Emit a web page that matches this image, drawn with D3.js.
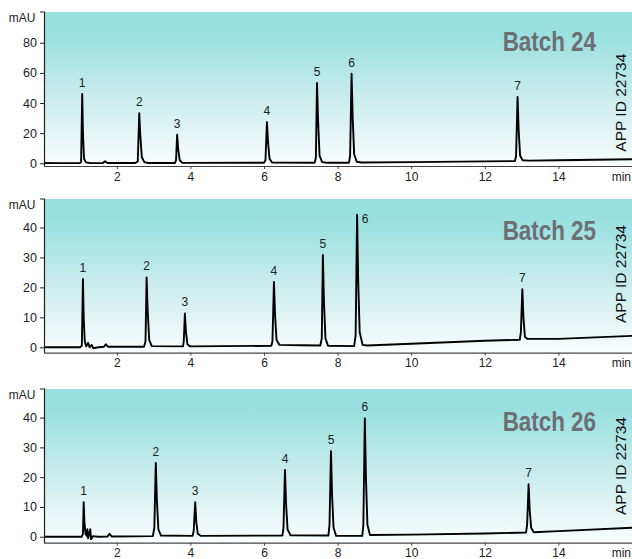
<!DOCTYPE html>
<html>
<head>
<meta charset="utf-8">
<script src="https://cdn.jsdelivr.net/npm/d3@7/dist/d3.min.js"></script>
<style>
  html, body { margin: 0; padding: 0; background: #ffffff; }
  svg { display: block; }
  text { font-family: "Liberation Sans", Arial, Helvetica, sans-serif; }
</style>
</head>
<body>
<div id="chart"></div>
<script>
// ---------------- DATA ----------------
const batchNames = ["Batch 24", "Batch 25", "Batch 26"];
const appId = "APP ID 22734";
const xTickValues = [2, 4, 6, 8, 10, 12, 14];
const xUnitLabel = "min";
const yUnitLabel = "mAU";
const yTicks24 = [0, 20, 40, 60, 80];
const yTicks25 = [0, 10, 20, 30, 40];
const yTicks26 = [0, 10, 20, 30, 40];
const peakNumbers = ["1", "2", "3", "4", "5", "6", "7"];

// peak apex [retention time (min), height (mAU)]
const peaks24 = [[1.06, 46], [2.61, 33.3], [3.64, 18.9], [6.08, 27.3], [7.44, 53.3], [8.38, 59.5], [12.89, 44]];
const peaks25 = [[1.08, 22.8], [2.81, 23.3], [3.85, 11.3], [6.27, 21.8], [7.60, 30.8], [8.53, 44.3], [13.02, 19.4]];
const peaks26 = [[1.10, 11.6], [3.06, 24.8], [4.13, 11.6], [6.57, 22.4], [7.82, 28.7], [8.74, 39.7], [13.19, 17.6]];

// chromatogram traces [time (min), signal (mAU)]
const trace24 = [
  [0.02,0.2],[0.5,0.1],[1.0,0.2],[1.03,0.8],[1.06,46],[1.08,20],[1.11,3],[1.16,0.6],[1.3,0.1],
  [1.62,0.2],[1.68,1.3],[1.75,0.2],[2.5,0.2],[2.57,1.2],[2.61,33.3],[2.64,18],[2.68,4],[2.75,0.8],[2.85,0.2],
  [3.58,0.2],[3.61,2],[3.64,18.9],[3.67,9],[3.71,2],[3.78,0.3],[6.0,0.4],[6.04,2],[6.08,27.3],[6.11,14],
  [6.15,3],[6.22,0.5],[7.38,0.4],[7.41,4],[7.44,53.3],[7.47,28],[7.51,5],[7.58,0.8],[7.7,0.4],
  [8.31,0.4],[8.34,5],[8.38,59.5],[8.41,30],[8.45,6],[8.52,1],[8.65,0.5],[10,0.8],[12,1.3],
  [12.82,1.5],[12.85,5],[12.89,44],[12.92,22],[12.96,5],[13.03,2],[13.2,1.8],[14,2.0],[16,2.7]
];
const trace25 = [
  [0.02,0],[1.0,0],[1.05,0.5],[1.08,22.8],[1.10,10],[1.13,2],[1.17,0.3],[1.22,1.5],[1.26,0],[1.32,0.8],
  [1.36,-0.3],[1.5,0],[1.65,0.2],[1.7,1],[1.76,0.2],[2.74,0.2],[2.78,2],[2.81,23.3],[2.84,12],[2.88,2.5],
  [2.95,0.4],[3.8,0.3],[3.82,2],[3.85,11.3],[3.88,5],[3.92,1],[3.99,0.3],[6.2,0.5],[6.23,2],[6.27,21.8],
  [6.30,11],[6.34,2.5],[6.42,0.8],[7.0,0.7],[7.53,0.6],[7.57,3],[7.60,30.8],[7.63,15],[7.67,3],[7.74,0.5],
  [8.45,0.4],[8.49,4],[8.53,44.3],[8.56,22],[8.60,5],[8.68,0.8],[8.8,0.6],[10,1.2],[12,2.2],
  [12.95,2.5],[12.98,5],[13.02,19.4],[13.05,10],[13.09,3.5],[13.16,2.8],[14,2.8],[16,3.8]
];
const trace26 = [
  [0.02,0],[1.05,0],[1.08,1],[1.10,11.6],[1.12,5],[1.15,1],[1.18,0.3],[1.20,2.5],[1.22,-0.5],[1.25,1],
  [1.28,2.5],[1.30,-0.8],[1.35,0.2],[1.5,0],[1.75,0.1],[1.8,1],[1.86,0.1],[2.98,0.2],[3.02,3],[3.06,24.8],
  [3.09,12],[3.13,2.5],[3.2,0.4],[4.06,0.3],[4.09,2],[4.13,11.6],[4.16,5],[4.2,1],[4.28,0.3],[6.5,0.4],
  [6.53,3],[6.57,22.4],[6.60,11],[6.64,2.5],[6.72,0.5],[7.75,0.4],[7.78,4],[7.82,28.7],[7.85,14],[7.89,3],
  [7.96,0.3],[8.67,0.3],[8.70,4],[8.74,39.7],[8.77,20],[8.81,4],[8.88,0.6],[10,0.7],[12,1.1],
  [13.12,1.4],[13.15,4],[13.19,17.6],[13.22,9],[13.26,3],[13.33,1.5],[14,1.9],[16,3]
];

// ---------------- LAYOUT ----------------
const W = 632, H = 559;
const panels = [
  { name: batchNames[0], trace: trace24, peaks: peaks24, yTicks: yTicks24, yDomain: [-1.8, 100.4], top: 12, bottom: 166, batchY: 50.7, appY: 151.7, lab6: null },
  { name: batchNames[1], trace: trace25, peaks: peaks25, yTicks: yTicks25, yDomain: [-1.8, 49.5], top: 199, bottom: 352.7, batchY: 240, appY: 323, lab6: [8, 8] },
  { name: batchNames[2], trace: trace26, peaks: peaks26, yTicks: yTicks26, yDomain: [-2.0, 49.6], top: 389, bottom: 542.7, batchY: 430.7, appY: 515, lab6: null }
];
const axisX = 44;
const x = d3.scaleLinear().domain([0, 16]).range([43.2, 632]);

const svg = d3.select("#chart").append("svg").attr("width", W).attr("height", H);

const defs = svg.append("defs");
const grad = defs.append("linearGradient").attr("id", "bg").attr("x1", 0).attr("y1", 0).attr("x2", 0).attr("y2", 1);
[[0, "#97dfdf"], [0.18, "#9de1e1"], [0.55, "#c9ecec"], [1, "#f8fcfc"]].forEach(s =>
  grad.append("stop").attr("offset", s[0]).attr("stop-color", s[1]));

panels.forEach((p, i) => {
  const y = d3.scaleLinear().domain(p.yDomain).range([p.bottom, p.top]);
  const g = svg.append("g");

  // background
  g.append("rect").attr("x", axisX).attr("y", p.top).attr("width", W - axisX).attr("height", p.bottom - 2 - p.top)
    .attr("fill", "url(#bg)");

  // trace
  const clipId = "clip" + i;
  defs.append("clipPath").attr("id", clipId).append("rect")
    .attr("x", axisX + 0.5).attr("y", p.top - 20).attr("width", W - axisX).attr("height", p.bottom - p.top + 18);
  g.append("path").datum(p.trace)
    .attr("clip-path", `url(#${clipId})`)
    .attr("fill", "none").attr("stroke", "#000").attr("stroke-width", 1.9).attr("stroke-linejoin", "round")
    .attr("d", d3.line().x(d => x(d[0])).y(d => y(d[1])));

  // x axis
  const xa = g.append("g").attr("transform", `translate(0,${p.bottom})`)
    .call(d3.axisBottom(x).tickValues(xTickValues).tickSize(3).tickSizeOuter(0).tickPadding(3).tickFormat(d3.format("d")));
  xa.select(".domain").attr("stroke", "#444").attr("stroke-width", 1.2).attr("d", `M${axisX},0.5H${W}`);
  xa.selectAll(".tick line").attr("stroke", "#444");
  xa.selectAll("text").attr("font-size", 12).attr("fill", "#222").attr("font-family", "Liberation Sans, Arial, sans-serif");
  xa.append("text").attr("x", W - 1).attr("y", 14.5).attr("text-anchor", "end")
    .attr("font-size", 12).attr("fill", "#222").attr("font-family", "Liberation Sans, Arial, sans-serif")
    .text(xUnitLabel);

  // y axis
  const ya = g.append("g").attr("transform", `translate(${axisX},0)`)
    .call(d3.axisLeft(y).tickValues(p.yTicks).tickSize(4).tickSizeOuter(0).tickPadding(3));
  ya.select(".domain").attr("stroke", "#222").attr("stroke-width", 1.2).attr("d", `M-4,${p.top}H0.5V${p.bottom}`);
  ya.selectAll(".tick line").attr("stroke", "#222");
  ya.selectAll("text").attr("font-size", 12.5).attr("fill", "#222").attr("font-family", "Liberation Sans, Arial, sans-serif");
  ya.append("text").attr("x", -8.5).attr("y", p.top + 9.5).attr("text-anchor", "end")
    .attr("font-size", 12).attr("fill", "#222").attr("font-family", "Liberation Sans, Arial, sans-serif")
    .text(yUnitLabel);

  // peak labels
  g.selectAll(".plab").data(p.peaks).enter().append("text")
    .attr("font-size", 12).attr("fill", "#222")
    .attr("text-anchor", "middle")
    .attr("x", (d, k) => x(d[0]) + (k === 5 && p.lab6 ? p.lab6[0] : 0))
    .attr("y", (d, k) => y(d[1]) + (k === 5 && p.lab6 ? p.lab6[1] : -7))
    .text((d, k) => peakNumbers[k]);

  // batch title (condensed bold)
  g.append("text").attr("transform", `translate(596,${p.batchY}) scale(0.83,1)`)
    .attr("text-anchor", "end")
    .attr("font-family", "'Liberation Sans', Arial, sans-serif")
    .attr("font-weight", "bold").attr("font-size", 27).attr("fill", "#6d6f73")
    .text(p.name);

  // app id
  g.append("text").attr("transform", `translate(626,${p.appY}) rotate(-90)`)
    .attr("font-size", 15.5).attr("fill", "#111")
    .text(appId);
});
</script>
</body>
</html>
